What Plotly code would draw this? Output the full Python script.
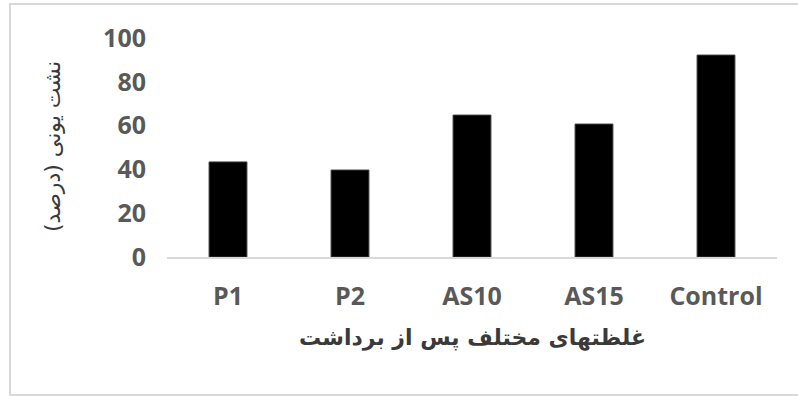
import plotly.graph_objects as go

categories = ["P1", "P2", "AS10", "AS15", "Control"]
values = [43.4, 39.7, 64.8, 60.7, 92.2]
y_ticks = [0, 20, 40, 60, 80, 100]
x_title = "غلظتهای مختلف پس از برداشت"
y_title = "نشت یونی (درصد)"

W, H = 798, 396
L, R, T, B = 167, 21, 38, 139
pw, ph = W - L - R, H - T - B

fig = go.Figure(go.Bar(x=categories, y=values, marker=dict(color="#000000", line=dict(color="#3a3a3a", width=1))))

fig.update_layout(
    width=W, height=H,
    margin=dict(l=L, r=R, t=T, b=B),
    paper_bgcolor="white", plot_bgcolor="white",
    bargap=0.69,
    showlegend=False,
    xaxis=dict(
        showline=True, linecolor="#d9d9d9", linewidth=1.5,
        showgrid=False, ticks="",
        tickfont=dict(family="Open Sans", size=25, color="#595959", weight="bold"),
        ticklabelstandoff=16,
    ),
    yaxis=dict(
        range=[0, 100], tickvals=y_ticks, showline=False, showgrid=False,
        zeroline=False, ticks="",
        tickfont=dict(family="Open Sans", size=25, color="#595959", weight="bold"),
        ticklabelstandoff=20,
    ),
    shapes=[dict(
        type="rect", xref="paper", yref="paper",
        x0=(10 - L) / pw, x1=(805 - L) / pw,
        y0=(H - B - 395) / ph, y1=(H - B - 4) / ph,
        line=dict(color="#d9d9d9", width=2), fillcolor="rgba(0,0,0,0)", layer="below",
    )],
    annotations=[
        dict(text=x_title, xref="paper", yref="paper",
             x=(472 - L) / pw, y=(H - B - 338) / ph, xanchor="center", yanchor="middle",
             showarrow=False, font=dict(family="DejaVu Sans", size=22, color="#3a3a3a", weight="bold")),
        dict(text=y_title, xref="paper", yref="paper", textangle=-90,
             x=(52 - L) / pw, y=(H - B - 147) / ph, xanchor="center", yanchor="middle",
             showarrow=False, font=dict(family="DejaVu Sans", size=22, color="#3a3a3a")),
    ],
)

fig.write_html("out.html")
